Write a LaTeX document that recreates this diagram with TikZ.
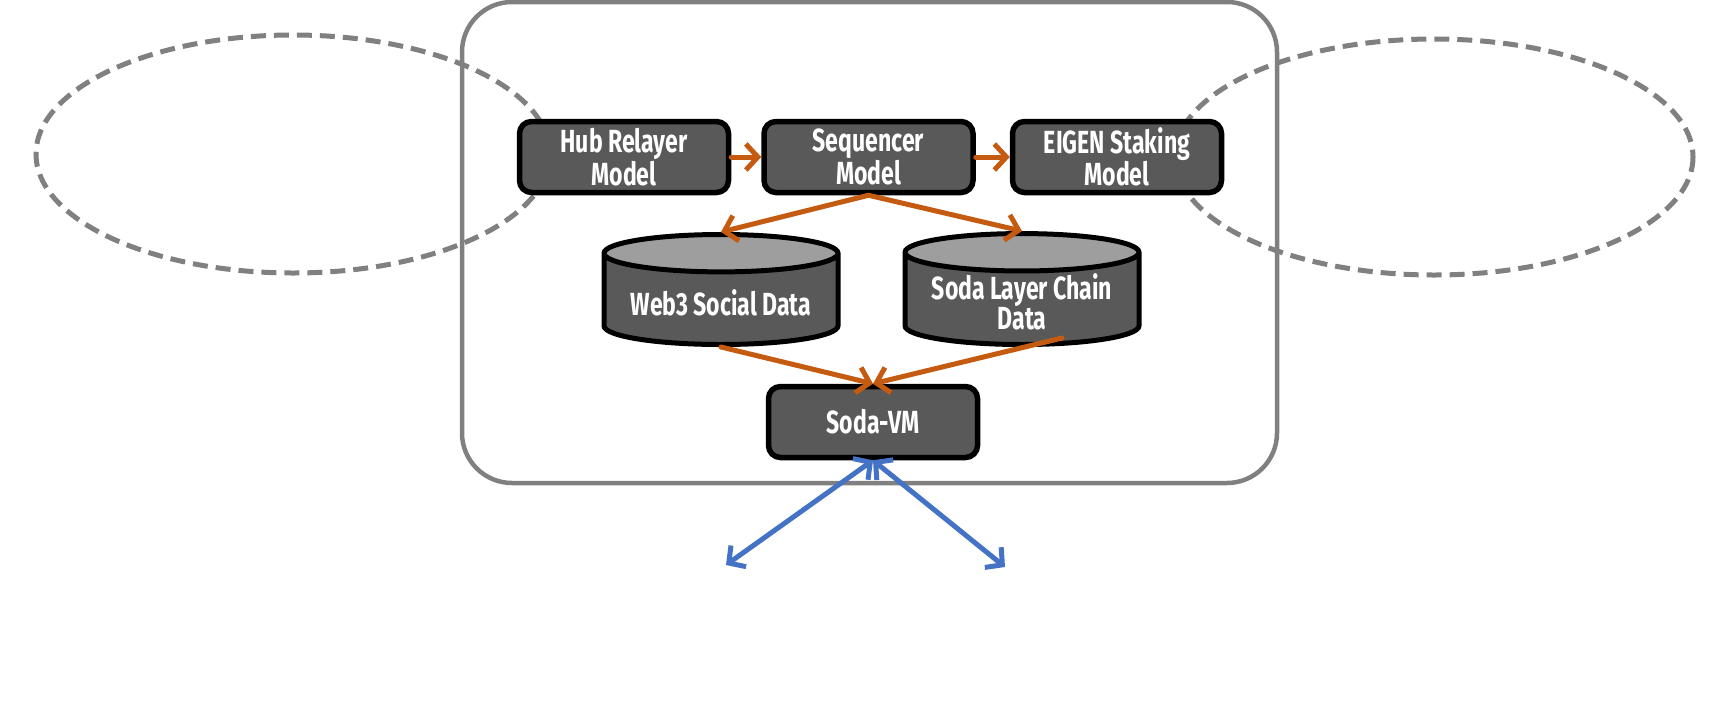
\documentclass[tikz,border=0pt]{standalone}
\usepackage{fontspec}
\setmainfont{Fira Sans}
\newfontfamily\boxfont{Fira Sans}[FakeStretch=0.72]
\usetikzlibrary{arrows.meta,positioning,shapes.geometric}
\definecolor{boxgray}{HTML}{595959}
\definecolor{topgray}{HTML}{9E9E9E}
\definecolor{flow}{HTML}{C55A11}
\definecolor{link}{HTML}{4472C4}
\definecolor{framegray}{HTML}{808080}
\tikzset{>={Straight Barb[length=12pt 0 0,width=26pt 0 0]},
	model/.style={% the rounded grey boxes
		draw=black, line width=5.5pt,
		fill=boxgray,
		rounded corners=12pt,
		minimum width=209pt,
		minimum height=71pt,
		text=white,
		align=center,
		font=\boxfont\bfseries\fontsize{32}{26}\selectfont
	},
	store/.style={% data stores as cylinders
		draw=black, line width=5pt,
		cylinder, shape border rotate=90,
		cylinder uses custom fill,
		cylinder body fill=boxgray,
		cylinder end fill=topgray,
		aspect=0.2,
		inner ysep=0pt,
		minimum width=234pt,
		minimum height=110pt,
		text=white,
		align=center,
		font=\boxfont\bfseries\fontsize{32}{26}\selectfont
	},
	flowline/.style={->, draw=flow, line width=5pt, line cap=round},
	linkline/.style={<->, draw=link, line width=5pt, line cap=round},
	zone/.style={draw=framegray, line width=5pt, dash pattern=on 15pt off 8pt}
}

\begin{document}
\begin{tikzpicture}[x=1pt,y=-1pt]
	\useasboundingbox (0,0) rectangle (1733,710);

	% outer frame and the two dashed zones
	\draw[framegray, line width=4.5pt, rounded corners=50pt] (462,2) rectangle (1277,483);
	\draw[zone] (293,154) ellipse [x radius=257, y radius=119];
	\draw[zone] (1434,157) ellipse [x radius=259, y radius=118];

	\node[model] (hub) at (624,157) {Hub Relayer\\Model};
	\node[model] (seq) [right=30pt of hub] {Sequencer\\Model};
	\node[model] (eigen) [right=34pt of seq] {EIGEN Staking\\Model};

	\node[store, anchor=south] (web3) at (721,347) {Web3 Social Data};
	\node[store, anchor=south] (chain) at (1022,347) {Soda Layer Chain\\Data};

	\node[model] (vm) at (873,422) {Soda-VM};

	\coordinate (outl) at (726,565);
	\coordinate (outr) at (1005,567);

	\draw[flowline] (hub) -- (seq);
	\draw[flowline] (seq) -- (eigen);
	\draw[flowline] (seq.south) -- (web3.north);
	\draw[flowline] (seq.south) -- (chain.north);
	\draw[flowline] (web3.south) -- (vm.north);
	\draw[flowline] ([shift={(40,-9)}]chain.south) -- (vm.north);

	\draw[linkline] (outl) -- (vm.south);
	\draw[linkline] (vm.south) -- (outr);
\end{tikzpicture}
\end{document}
